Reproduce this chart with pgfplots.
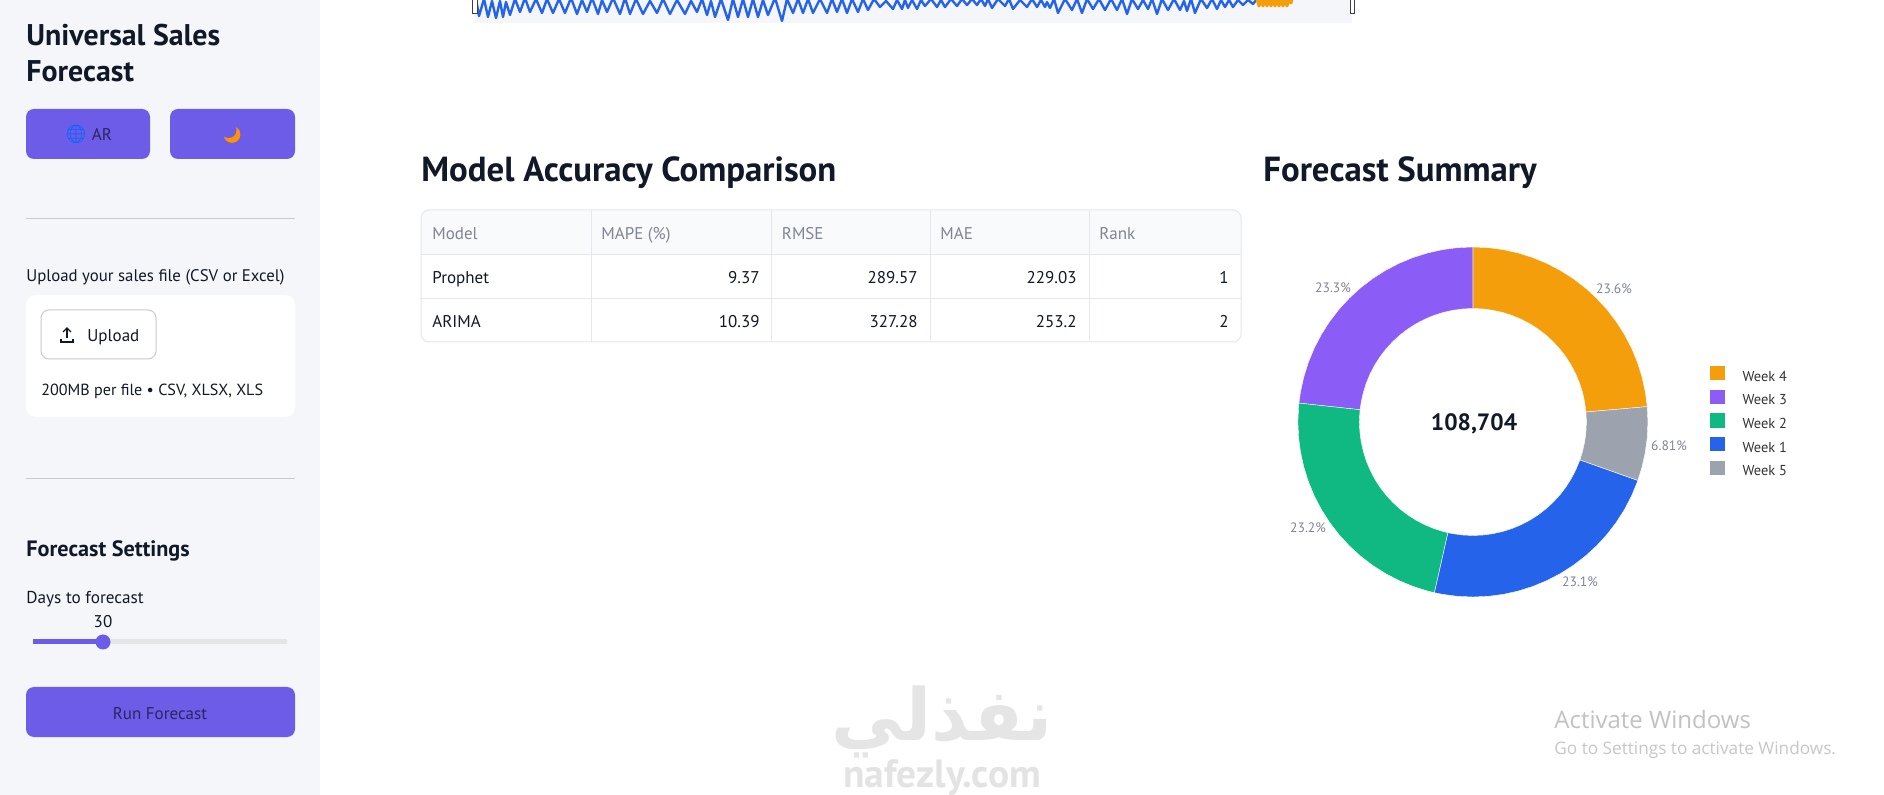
\documentclass[border=0pt]{standalone}
\usepackage{pgfplots}
\pgfplotsset{compat=1.18}
\usepackage{fontspec}
\setmainfont{PT Sans}
\newfontfamily\emoji{Noto Emoji}
\newfontfamily\arabicfont[Script=Arabic]{DejaVu Sans}
\newfontfamily\winfont{Open Sans}
\TeXXeTstate=1
\definecolor{side}{HTML}{F5F6F9}
\definecolor{btn}{HTML}{6C5CE7}
\definecolor{ink}{HTML}{111827}
\definecolor{btntext}{HTML}{2A2660}
\definecolor{rule}{HTML}{C9CACF}
\definecolor{tline}{HTML}{E5E7EB}
\definecolor{thead}{HTML}{F9FAFB}
\definecolor{headtxt}{HTML}{808495}
\definecolor{wk4}{HTML}{F59E0B}
\definecolor{wk3}{HTML}{8B5CF6}
\definecolor{wk2}{HTML}{10B981}
\definecolor{wk1}{HTML}{2563EB}
\definecolor{wk5}{HTML}{9CA3AF}
\newcommand\fsz[1]{\fontsize{#1}{#1}\selectfont}
\newcommand\tx[4]{\node[anchor=base west,inner sep=0pt,yshift=-.5pt,text=ink,font=\fsz{#1}] at (axis cs:#2,#3) {#4};}
\newcommand\tr[3]{\node[anchor=base east,inner sep=0pt,yshift=-.5pt,text=ink,font=\fsz{8.5}] at (axis cs:#1,#2) {#3};}
\newcommand\tc[5]{\node[anchor=base,inner sep=0pt,yshift=-.5pt,text=#5,font=\fsz{#1}] at (axis cs:#2,#3) {#4};}
\newcommand\thd[3]{\node[anchor=base west,inner sep=0pt,yshift=-.5pt,text=headtxt,font=\fsz{8.5}] at (axis cs:#1,#2) {#3};}
\begin{document}
\begin{tikzpicture}
\begin{axis}[at={(0,0)},anchor=south west,width=942pt,height=397.5pt,scale only axis,
  xmin=0,xmax=1884,ymin=0,ymax=795,y dir=reverse,hide axis,clip=true]
% backgrounds
\fill[white] (axis cs:0,0) rectangle (axis cs:1884,795);
\fill[side] (axis cs:0,0) rectangle (axis cs:320,795);
\fill[side] (axis cs:475,0) rectangle (axis cs:1352,23);
% range strip
\addplot[wk1,line width=1.2pt,line join=round] coordinates {
(476,-1)(479,16)(484,-1)(488,17)(492,1)(496,18)(500,1)(503,17)(506,2)(510,15)(515,-1)(520,12)(525,-2)(530,12)
(536,-1)(542,13)(547,-1)(553,13)(559,-1)(565,13)(571,-2)(577,14)(582,0)(587,12)(592,-2)(598,14)(602,0)(607,12)
(613,-2)(620,14)(625,-2)(630,14)(636,-1)(643,14)(650,1)(657,13)(663,-1)(670,14)(677,0)(685,14)(691,1)(697,12)
(702,-1)(707,15)(711,1)(715,17)(721,-1)(728,20)(733,-1)(738,17)(743,-1)(748,17)(753,-1)(758,17)(763,0)(768,15)
(775,-2)(782,21)(787,-1)(793,13)(798,-1)(803,13)(808,-1)(813,13)(820,-1)(827,13)(832,-1)(837,12)(842,-1)(847,13)
(852,-1)(858,12)(863,-1)(868,10)(874,-1)(880,7)(886,1)(893,9)(897,0)(902,9)(905,0)(908,8)(912,0)(917,9)(921,0)
(925,6)(931,-1)(937,7)(941,0)(945,7)(951,-1)(957,6)(962,-1)(967,5)(972,-1)(977,5)(981,-1)(985,6)(988,-1)(992,8)
(998,-1)(1005,6)(1009,-1)(1013,9)(1020,0)(1027,7)(1032,-1)(1037,7)(1041,0)(1045,7)(1047,2)(1050,8)(1054,-1)(1058,13)
(1065,-1)(1072,10)(1077,-1)(1082,13)(1087,-1)(1093,9)(1099,-1)(1105,10)(1111,-1)(1117,10)(1122,-1)(1127,14)(1132,-1)
(1138,9)(1143,0)(1148,9)(1152,-1)(1157,14)(1162,-1)(1168,10)(1174,-1)(1180,10)(1184,1)(1187,11)(1191,-1)(1195,13)
(1201,-1)(1207,8)(1212,-1)(1217,9)(1221,0)(1225,7)(1229,0)(1233,7)(1238,0)(1243,5)(1248,0)(1253,4)(1257,-1)
};
\addplot[wk4,line width=1.5pt,line join=round] coordinates {
(1257,-1)(1259,6)(1261,-1)(1263,6)(1265,-1)(1267,6)(1269,-1)(1271,6)(1273,-1)(1275,6)(1277,-1)(1279,6)(1281,-1)
(1283,6)(1285,-1)(1287,6)(1289,-1)(1291,3)(1292,-1)
};
\draw[black!75,fill=white,line width=.5pt] (axis cs:472.5,-3) rectangle (axis cs:477,14);
\draw[black!75,fill=white,line width=.5pt] (axis cs:1350,-3) rectangle (axis cs:1354.5,14);
% sidebar
\tx{14.95}{26}{45}{\bfseries Universal Sales}
\tx{14.95}{26}{81}{\bfseries Forecast}
\fill[btn,rounded corners=4pt] (axis cs:26,109) rectangle (axis cs:150,159);
\fill[btn,rounded corners=4pt] (axis cs:170,109) rectangle (axis cs:295,159);
\node[anchor=center,inner sep=0pt,text=blue!60!cyan,font=\fsz{9}\emoji] at (axis cs:76,134) {🌐};
\tc{8.5}{102}{139.5}{AR}{btntext}
\fill[orange!85!yellow] (axis cs:232,134.5) circle[radius=4.2pt];
\fill[btn] (axis cs:228.5,130) circle[radius=4pt];
\draw[rule,line width=.5pt] (axis cs:26,219) -- (axis cs:295,219);
\tx{8.4}{26}{281}{Upload your sales file (CSV or Excel)}
\fill[white,rounded corners=5pt] (axis cs:26,295) rectangle (axis cs:295,417);
\draw[rule,fill=white,rounded corners=4pt,line width=.5pt] (axis cs:41,310) rectangle (axis cs:156,359);
\draw[ink,line width=.7pt] (axis cs:61,339) -- (axis cs:61,342) -- (axis cs:73,342) -- (axis cs:73,339);
\draw[ink,line width=.7pt] (axis cs:67,338) -- (axis cs:67,329);
\draw[ink,line width=.7pt] (axis cs:63,332) -- (axis cs:67,328) -- (axis cs:71,332);
\tx{8.5}{87}{341}{Upload}
\tx{8.05}{41}{395}{200MB per file • CSV, XLSX, XLS}
\draw[rule,line width=.5pt] (axis cs:26,479) -- (axis cs:295,479);
\tx{11.1}{26}{556}{\bfseries Forecast Settings}
\tx{8.6}{26}{603}{Days to forecast}
\tc{8.5}{103}{627}{30}{ink}
\fill[black!10] (axis cs:33,639.5) rectangle (axis cs:287,644.5);
\fill[btn] (axis cs:33,639.5) rectangle (axis cs:103,644.5);
\fill[btn] (axis cs:103,642) circle[radius=3.75pt];
\fill[btn,rounded corners=4pt] (axis cs:26,687) rectangle (axis cs:295,737);
\tc{8.5}{160}{718}{Run Forecast}{btntext}
% headings
\node[anchor=base west,inner sep=0pt,yshift=-1pt,text=ink,font=\fsz{17.4}\bfseries] at (axis cs:421,180) {Model Accuracy Comparison};
\node[anchor=base west,inner sep=0pt,yshift=-1pt,text=ink,font=\fsz{17.4}\bfseries] at (axis cs:1263,180) {Forecast Summary};
% table
\fill[thead,rounded corners=4pt] (axis cs:421,210) rectangle (axis cs:1241,270);
\fill[white] (axis cs:421,255) rectangle (axis cs:1241,272);
\draw[tline,rounded corners=4pt,line width=.5pt] (axis cs:421,210) rectangle (axis cs:1241,342);
\draw[tline,line width=.5pt] (axis cs:421,255) -- (axis cs:1241,255);
\draw[tline,line width=.5pt] (axis cs:421,299) -- (axis cs:1241,299);
\draw[tline,line width=.5pt] (axis cs:591,210) -- (axis cs:591,342);
\draw[tline,line width=.5pt] (axis cs:771.5,210) -- (axis cs:771.5,342);
\draw[tline,line width=.5pt] (axis cs:930,210) -- (axis cs:930,342);
\draw[tline,line width=.5pt] (axis cs:1089,210) -- (axis cs:1089,342);
\thd{432}{239}{Model}
\thd{601}{239}{MAPE (\%)}
\thd{781.5}{239}{RMSE}
\thd{940}{239}{MAE}
\thd{1099}{239}{Rank}
\tx{8.5}{432}{283}{Prophet}
\tr{760}{283}{9.37}\tr{918}{283}{289.57}\tr{1077}{283}{229.03}\tr{1229}{283}{1}
\tx{8.5}{432}{327}{ARIMA}
\tr{760}{327}{10.39}\tr{918}{327}{327.28}\tr{1077}{327}{253.2}\tr{1229}{327}{2}
% donut texts
\tc{6.8}{1614}{293}{23.6\%}{headtxt}
\tc{6.8}{1333}{292}{23.3\%}{headtxt}
\tc{6.8}{1669}{450}{6.81\%}{headtxt}
\tc{6.8}{1308}{532}{23.2\%}{headtxt}
\tc{6.8}{1580}{586}{23.1\%}{headtxt}
\node[anchor=center,inner sep=0pt,yshift=-.4pt,text=ink,font=\fsz{11.8}\bfseries] at (axis cs:1474,423) {108,704};
% watermarks
\node[anchor=center,inner sep=0pt,text=black!10,font=\fsz{36}\arabicfont\bfseries] at (axis cs:942,722) {\beginR نفذلي\endR};
\node[anchor=base,inner sep=0pt,text=black!11,font=\fsz{19.7}\bfseries] at (axis cs:942,787) {nafezly.com};
\node[anchor=base west,inner sep=0pt,text=black!24,font=\fsz{12}\winfont] at (axis cs:1554,728) {Activate Windows};
\node[anchor=base west,inner sep=0pt,text=black!22,font=\fsz{8.6}\winfont] at (axis cs:1554,754) {Go to Settings to activate Windows.};
\end{axis}
\begin{axis}[at={(736.45pt,186.5pt)},anchor=center,width=175pt,height=175pt,scale only axis,
  xmin=-175,xmax=175,ymin=-175,ymax=175,hide axis,clip=false,data cs=polar,
  every axis plot/.append style={draw=white,line width=.2pt},
  legend cell align=left,
  legend image code/.code={\fill[#1] (0pt,-1.4pt) rectangle (7.8pt,6.2pt);},
  legend style={at={(1.174,0.5)},anchor=west,draw=none,fill=none,inner sep=0pt,font=\fsz{7.2},text=black!80,row sep=2.2pt,
    nodes={inner sep=0pt,outer sep=0pt},/tikz/column 1/.append style={column sep=8.7pt}}]
\addplot[fill=wk4] coordinates {(90,175)(85,175)(80,175)(75,175)(70,175)(65,175)(60,175)(55,175)(50,175)(45,175)(40,175)(35,175)(30,175)(25,175)(20,175)(15,175)(10,175)(5.04,175)
(5.04,113.5)(10,113.5)(15,113.5)(20,113.5)(25,113.5)(30,113.5)(35,113.5)(40,113.5)(45,113.5)(50,113.5)(55,113.5)(60,113.5)(65,113.5)(70,113.5)(75,113.5)(80,113.5)(85,113.5)(90,113.5)} --cycle;
\addlegendentry{Week 4}
\addplot[fill=wk3] coordinates {(-186.2,175)(-190,175)(-195,175)(-200,175)(-205,175)(-210,175)(-215,175)(-220,175)(-225,175)(-230,175)(-235,175)(-240,175)(-245,175)(-250,175)(-255,175)(-260,175)(-265,175)(-270,175)
(-270,113.5)(-265,113.5)(-260,113.5)(-255,113.5)(-250,113.5)(-245,113.5)(-240,113.5)(-235,113.5)(-230,113.5)(-225,113.5)(-220,113.5)(-215,113.5)(-210,113.5)(-205,113.5)(-200,113.5)(-195,113.5)(-190,113.5)(-186.2,113.5)} --cycle;
\addlegendentry{Week 3}
\addplot[fill=wk2] coordinates {(-102.7,175)(-105,175)(-110,175)(-115,175)(-120,175)(-125,175)(-130,175)(-135,175)(-140,175)(-145,175)(-150,175)(-155,175)(-160,175)(-165,175)(-170,175)(-175,175)(-180,175)(-185,175)(-186.2,175)
(-186.2,113.5)(-185,113.5)(-180,113.5)(-175,113.5)(-170,113.5)(-165,113.5)(-160,113.5)(-155,113.5)(-150,113.5)(-145,113.5)(-140,113.5)(-135,113.5)(-130,113.5)(-125,113.5)(-120,113.5)(-115,113.5)(-110,113.5)(-105,113.5)(-102.7,113.5)} --cycle;
\addlegendentry{Week 2}
\addplot[fill=wk1] coordinates {(-19.5,175)(-20,175)(-25,175)(-30,175)(-35,175)(-40,175)(-45,175)(-50,175)(-55,175)(-60,175)(-65,175)(-70,175)(-75,175)(-80,175)(-85,175)(-90,175)(-95,175)(-100,175)(-102.7,175)
(-102.7,113.5)(-100,113.5)(-95,113.5)(-90,113.5)(-85,113.5)(-80,113.5)(-75,113.5)(-70,113.5)(-65,113.5)(-60,113.5)(-55,113.5)(-50,113.5)(-45,113.5)(-40,113.5)(-35,113.5)(-30,113.5)(-25,113.5)(-20,113.5)(-19.5,113.5)} --cycle;
\addlegendentry{Week 1}
\addplot[fill=wk5] coordinates {(5.04,175)(0,175)(-5,175)(-10,175)(-15,175)(-19.5,175)
(-19.5,113.5)(-15,113.5)(-10,113.5)(-5,113.5)(0,113.5)(5.04,113.5)} --cycle;
\addlegendentry{Week 5}
\end{axis}
\end{tikzpicture}
\end{document}
